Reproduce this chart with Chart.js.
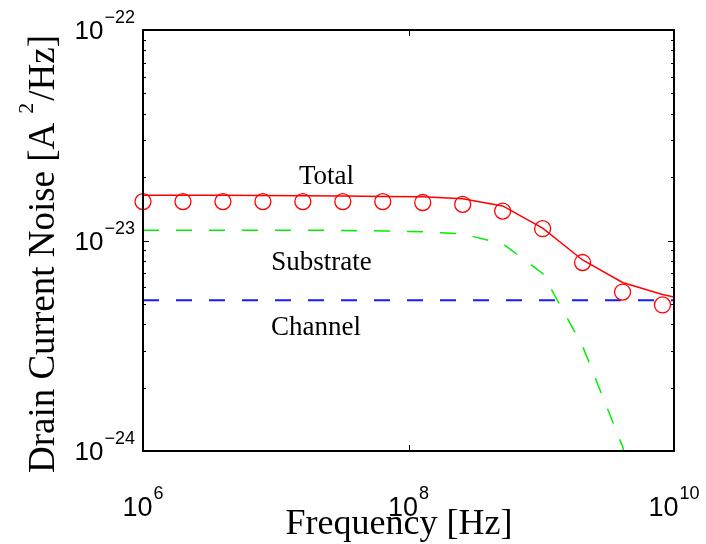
<!DOCTYPE html>
<html>
<head>
<meta charset="utf-8">
<script src="https://cdn.jsdelivr.net/npm/chart.js@4.4.0/dist/chart.umd.min.js"></script>
<style>
  html, body { margin: 0; padding: 0; background: #fff; }
  #wrap { width: 706px; height: 544px; }
</style>
</head>
<body>
<div id="wrap"><canvas id="noiseChart" width="706" height="544"></canvas></div>
<script>
// frequency grid of the measured points (circles)
const markerFreq = [1e6, 2e6, 4e6, 8e6, 1.6e7, 3.2e7, 6.4e7, 1.28e8, 2.56e8, 5.12e8, 1.024e9, 2.048e9, 4.096e9, 8.192e9];
const totalMeasured = [1.53e-23, 1.53e-23, 1.53e-23, 1.53e-23, 1.53e-23, 1.53e-23, 1.53e-23, 1.515e-23, 1.486e-23, 1.38e-23, 1.138e-23, 7.86e-24, 5.69e-24, 4.94e-24];

// frequency grid of the model curves
const lineFreq = [1e6, 2e6, 4e6, 8e6, 1.6e7, 3.2e7, 6.4e7, 1.28e8, 2.56e8, 5.12e8, 1.024e9, 2.048e9, 4.096e9, 8.192e9, 1e10];
const totalModel = [1.64e-23, 1.64e-23, 1.64e-23, 1.635e-23, 1.63e-23, 1.625e-23, 1.62e-23, 1.612e-23, 1.58e-23, 1.46e-23, 1.146e-23, 8.08e-24, 6.32e-24, 5.54e-24, 5.39e-24];
const substrateNoise = [1.12e-23, 1.12e-23, 1.12e-23, 1.12e-23, 1.12e-23, 1.115e-23, 1.11e-23, 1.10e-23, 1.074e-23, 9.66e-24, 6.97e-24, 3.15e-24, 1.05e-24, 2e-25, null];
const channelNoise = [5.2e-24, 5.2e-24, 5.2e-24, 5.2e-24, 5.2e-24, 5.2e-24, 5.2e-24, 5.2e-24, 5.2e-24, 5.2e-24, 5.2e-24, 5.2e-24, 5.2e-24, 5.2e-24, 5.2e-24];

// axes
const xMajorTicks = [1e6, 1e8, 1e10];
const yMajorTicks = [1e-24, 1e-23, 1e-22];
const yMinorTicks = [2e-24, 3e-24, 4e-24, 5e-24, 6e-24, 7e-24, 8e-24, 9e-24,
                     2e-23, 3e-23, 4e-23, 5e-23, 6e-23, 7e-23, 8e-23, 9e-23];

// text annotations, placed in data coordinates
const labelText = ["Total", "Substrate", "Channel"];
const labelFreq = [2.41e7, 2.21e7, 2.01e7];
const labelValue = [1.855e-23, 7.24e-24, 3.56e-24];

const xTitle = "Frequency [Hz]";
const yTitleParts = ["Drain Current Noise [A", "2", "/Hz]"];

const pts = (xs, ys) => xs.map((x, i) => ({ x: x, y: ys[i] }));

const SERIF = '"Liberation Serif", "Times New Roman", serif';
const SANS = '"Liberation Sans", Arial, sans-serif';

function expText(v) {
  return String(Math.round(Math.log10(v))).replace("-", "\u2212");
}

// "10" with a raised exponent
function drawPow(ctx, v, left, baseline, baseSize, expSize, raise) {
  ctx.textAlign = "left";
  ctx.font = baseSize + "px " + SANS;
  ctx.fillText("10", left, baseline);
  const wb = ctx.measureText("10").width;
  ctx.font = expSize + "px " + SANS;
  ctx.fillText(expText(v), left + wb + 1, baseline - raise);
}

function powWidth(ctx, v, baseSize, expSize) {
  ctx.font = baseSize + "px " + SANS;
  const wb = ctx.measureText("10").width;
  ctx.font = expSize + "px " + SANS;
  return wb + 1 + ctx.measureText(expText(v)).width;
}

const overlay = {
  id: "overlay",
  afterDraw(chart) {
    const { ctx, chartArea: a, scales: { x, y } } = chart;
    ctx.save();
    ctx.fillStyle = "#000";
    ctx.strokeStyle = "#000";

    // axis box
    ctx.lineWidth = 2;
    ctx.strokeRect(a.left, a.top, a.right - a.left, a.bottom - a.top);

    // inward tick marks
    ctx.lineWidth = 1;
    ctx.beginPath();
    yMajorTicks.concat(yMinorTicks).forEach(v => {
      const len = yMajorTicks.includes(v) ? 6 : 3;
      const py = Math.round(y.getPixelForValue(v)) + 0.5;
      ctx.moveTo(a.left, py); ctx.lineTo(a.left + len, py);
      ctx.moveTo(a.right, py); ctx.lineTo(a.right - len, py);
    });
    xMajorTicks.forEach(v => {
      const px = Math.round(x.getPixelForValue(v)) + 0.5;
      ctx.moveTo(px, a.bottom); ctx.lineTo(px, a.bottom - 6);
      ctx.moveTo(px, a.top); ctx.lineTo(px, a.top + 6);
    });
    ctx.stroke();

    // tick labels
    ctx.textBaseline = "alphabetic";
    xMajorTicks.forEach(v => {
      const px = x.getPixelForValue(v);
      const w = powWidth(ctx, v, 27, 18);
      drawPow(ctx, v, px - w / 2, a.bottom + 65, 27, 18, 17);
    });
    yMajorTicks.forEach(v => {
      const py = y.getPixelForValue(v);
      const w = powWidth(ctx, v, 26, 18);
      drawPow(ctx, v, a.left - 8 - w, py + 9, 26, 18, 16);
    });

    // x title
    ctx.font = "36px " + SERIF;
    ctx.textAlign = "center";
    ctx.fillText(xTitle, 399, 534);

    // y title, rotated, with superscript
    ctx.font = "37px " + SERIF;
    const w0 = ctx.measureText(yTitleParts[0]).width;
    const w2 = ctx.measureText(yTitleParts[2]).width;
    ctx.font = "22px " + SERIF;
    const w1 = ctx.measureText(yTitleParts[1]).width;
    const gap = 9;
    const total = w0 + gap + w1 + 2 + w2;
    ctx.translate(54, 254 + total / 2);
    ctx.rotate(-Math.PI / 2);
    ctx.textAlign = "left";
    ctx.font = "37px " + SERIF;
    ctx.fillText(yTitleParts[0], 0, 0);
    ctx.font = "22px " + SERIF;
    ctx.fillText(yTitleParts[1], w0 + gap, -21);
    ctx.font = "37px " + SERIF;
    ctx.fillText(yTitleParts[2], w0 + gap + w1 + 2, 0);
    ctx.restore();

    // curve labels
    ctx.save();
    ctx.fillStyle = "#000";
    ctx.font = "27px " + SERIF;
    ctx.textAlign = "center";
    labelText.forEach((t, i) => {
      ctx.fillText(t, x.getPixelForValue(labelFreq[i]), y.getPixelForValue(labelValue[i]));
    });
    ctx.restore();
  }
};

const ctx = document.getElementById("noiseChart").getContext("2d");

new Chart(ctx, {
  type: "line",
  data: {
    datasets: [
      {
        label: "Total (model)",
        data: pts(lineFreq, totalModel),
        borderColor: "#ff0000",
        borderWidth: 1.5,
        pointRadius: 0,
        tension: 0,
        fill: false
      },
      {
        label: "Total (measured)",
        data: pts(markerFreq, totalMeasured),
        showLine: false,
        pointStyle: "circle",
        pointRadius: 8,
        pointBorderColor: "#ff0000",
        pointBackgroundColor: "rgba(0,0,0,0)",
        pointBorderWidth: 1.3,
        clip: false
      },
      {
        label: "Substrate",
        data: pts(lineFreq, substrateNoise),
        borderColor: "#00ee00",
        borderWidth: 1.5,
        borderDash: [16, 17],
        pointRadius: 0,
        tension: 0,
        fill: false
      },
      {
        label: "Channel",
        data: pts(lineFreq, channelNoise),
        borderColor: "#1a1aff",
        borderWidth: 2,
        borderDash: [16, 17],
        pointRadius: 0,
        tension: 0,
        fill: false
      }
    ]
  },
  options: {
    responsive: false,
    animation: false,
    layout: { padding: { left: 143, right: 32, top: 30, bottom: 93 } },
    plugins: {
      legend: { display: false },
      tooltip: { enabled: false }
    },
    scales: {
      x: { type: "logarithmic", min: 1e6, max: 1e10, display: false },
      y: { type: "logarithmic", min: 1e-24, max: 1e-22, display: false }
    }
  },
  plugins: [overlay]
});
</script>
</body>
</html>
